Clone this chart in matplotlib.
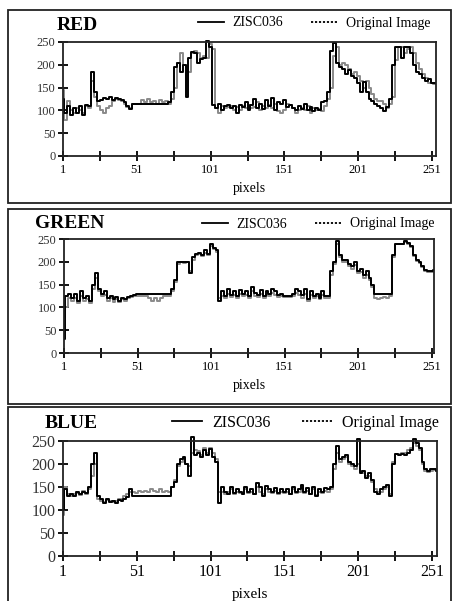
import numpy as np
import matplotlib
matplotlib.use("Agg")
import matplotlib.pyplot as plt
from matplotlib.lines import Line2D
from matplotlib.patches import Rectangle
from matplotlib.transforms import Bbox, TransformedBbox

plt.rcParams['font.family'] = ['Liberation Serif', 'DejaVu Serif']

# sampled every 2 pixels starting at pixel 1
red_zisc = [125, 95, 110, 90, 105, 95, 110, 90, 112, 110, 185, 140, 120, 122, 128, 125, 130, 122, 128, 125,
            122, 118, 110, 102, 113, 113, 113, 113, 113, 113, 113, 113, 113, 113, 113, 113, 118, 140, 195, 205,
            185, 200, 130, 215, 228, 225, 205, 212, 215, 252, 238, 112, 105, 115, 100, 110, 112, 105, 110, 95,
            112, 108, 118, 100, 112, 125, 105, 115, 102, 122, 110, 128, 100, 118, 115, 122, 108, 112, 105, 100,
            110, 102, 115, 100, 108, 98, 105, 100, 118, 120, 140, 230, 248, 205, 195, 190, 180, 188, 175, 170,
            160, 140, 162, 140, 125, 120, 115, 110, 105, 98, 108, 125, 200, 240, 240, 215, 238, 240, 225, 200,
            185, 180, 170, 165, 168, 160, 160, 160]
red_orig = [145, 80, 120, 100, 95, 105, 100, 95, 110, 105, 165, 130, 110, 100, 95, 105, 110, 120, 125, 122,
            120, 115, 108, 105, 113, 113, 115, 122, 118, 125, 118, 120, 115, 122, 118, 120, 115, 125, 150, 205,
            225, 200, 195, 185, 225, 230, 225, 215, 220, 215, 245, 235, 105, 95, 110, 105, 108, 110, 100, 108,
            100, 110, 105, 112, 105, 108, 118, 100, 110, 105, 112, 105, 115, 98, 95, 100, 115, 112, 105, 95,
            100, 105, 100, 110, 95, 105, 100, 102, 98, 110, 125, 150, 220, 240, 200, 205, 200, 190, 180, 185,
            175, 165, 150, 165, 150, 135, 125, 120, 120, 115, 105, 115, 130, 210, 240, 238, 225, 235, 240, 225,
            205, 190, 180, 170, 160, 160, 158, 158]
green_zisc = [30, 125, 130, 120, 130, 115, 135, 120, 125, 115, 150, 175, 140, 130, 135, 120, 125, 118, 122, 115,
              120, 118, 122, 125, 128, 130, 130, 130, 130, 130, 130, 130, 130, 130, 130, 130, 130, 140, 160, 200,
              200, 200, 200, 175, 210, 218, 220, 215, 225, 218, 240, 230, 225, 115, 135, 125, 140, 128, 135, 125,
              138, 130, 135, 125, 145, 132, 128, 138, 125, 135, 130, 140, 135, 128, 130, 125, 125, 125, 130, 140,
              135, 128, 140, 118, 135, 125, 130, 120, 135, 125, 125, 180, 200, 245, 215, 205, 205, 195, 190, 200,
              180, 185, 170, 180, 165, 150, 130, 130, 130, 130, 130, 130, 215, 240, 240, 240, 245, 242, 235, 215,
              205, 200, 190, 182, 180, 180, 182, 182]
green_orig = [80, 100, 120, 115, 120, 110, 125, 115, 118, 110, 140, 165, 135, 125, 128, 115, 120, 112, 118, 112,
              118, 115, 120, 122, 125, 125, 125, 125, 125, 120, 115, 120, 115, 120, 125, 125, 125, 135, 155, 195,
              200, 198, 200, 180, 205, 215, 218, 212, 220, 215, 235, 228, 222, 120, 125, 120, 130, 122, 128, 120,
              130, 125, 128, 120, 135, 125, 122, 130, 120, 128, 125, 132, 128, 122, 125, 122, 122, 122, 125, 132,
              128, 120, 130, 115, 128, 120, 125, 118, 128, 120, 120, 170, 195, 240, 210, 200, 200, 190, 185, 192,
              175, 178, 165, 172, 160, 145, 120, 118, 120, 122, 120, 125, 210, 238, 238, 240, 243, 240, 232, 212,
              202, 198, 188, 180, 178, 178, 180, 180]
blue_zisc = [100, 145, 130, 135, 130, 140, 135, 140, 138, 150, 200, 225, 130, 125, 115, 125, 118, 120, 115, 122,
             120, 125, 128, 145, 130, 130, 130, 130, 130, 130, 130, 130, 130, 130, 130, 130, 130, 150, 160, 200,
             210, 215, 200, 175, 258, 220, 225, 215, 230, 220, 232, 215, 205, 115, 150, 140, 135, 150, 138, 145,
             140, 135, 150, 140, 145, 135, 158, 150, 130, 152, 145, 140, 148, 138, 145, 140, 145, 135, 150, 140,
             145, 155, 140, 148, 135, 150, 130, 145, 140, 148, 145, 150, 200, 240, 210, 215, 220, 205, 200, 195,
             255, 180, 185, 170, 180, 165, 140, 135, 145, 150, 155, 130, 200, 222, 220, 222, 220, 225, 230, 255,
             245, 235, 205, 190, 185, 190, 190, 185]
blue_orig = [90, 150, 135, 130, 135, 138, 132, 142, 135, 145, 175, 200, 125, 120, 118, 122, 120, 118, 120, 125,
             125, 130, 135, 140, 140, 138, 142, 140, 142, 140, 145, 142, 140, 145, 140, 142, 140, 150, 165, 195,
             205, 210, 200, 195, 225, 230, 228, 220, 235, 225, 235, 225, 210, 140, 140, 135, 140, 145, 135, 140,
             138, 135, 145, 138, 140, 135, 150, 140, 135, 145, 140, 138, 142, 135, 140, 138, 140, 135, 145, 138,
             140, 148, 138, 142, 135, 145, 132, 140, 138, 142, 140, 145, 190, 225, 205, 210, 215, 200, 195, 190,
             200, 185, 180, 175, 175, 160, 145, 140, 140, 145, 150, 135, 205, 222, 222, 225, 225, 230, 235, 245,
             240, 230, 200, 185, 182, 185, 188, 185]

titles = ["RED", "GREEN", "BLUE"]
series = [(red_zisc, red_orig), (green_zisc, green_orig), (blue_zisc, blue_orig)]
legend_labels = ["ZISC036", "Original Image"]
x_ticks = [1, 51, 101, 151, 201, 251]
y_ticks = [0, 50, 100, 150, 200, 250]

W, H = 453, 601
fig = plt.figure(figsize=(W / 100, H / 100), dpi=100)

def fx(p): return p / W
def fy(p): return 1 - p / H

# panel boxes (pixel coords: left, top, right, bottom)
boxes = [(8, 10, 451, 203), (8, 209, 451, 404), (8, 407, 451, 606)]
for l, t, r, b in boxes:
    fig.patches.append(Rectangle((fx(l), fy(b)), fx(r - l), (b - t) / H, transform=fig.transFigure,
                                 fill=False, edgecolor='#222222', linewidth=1.3))

# axes (pixel coords: left, top, right, bottom) and xlim right
axes_px = [(63, 42, 436, 156, 253.7), (64, 239, 434, 353, 252.5), (63, 441, 437, 556, 254.5)]
title_pos = [(57, 25), (35, 224), (45, 424)]
leg_y = [23, 224, 423]
leg_right = [430, 434, 439]
leg_fs = [10, 10, 11.5]
tick_fs = [9, 9, 11.5]
xlab_fs = [10, 10, 11]
xlab_pad = [4.5, 4.5, 6]

for i, ((l, t, r, b, xr), (zisc, orig)) in enumerate(zip(axes_px, series)):
    ax = fig.add_axes([fx(l), fy(b), fx(r - l), (b - t) / H])
    x = 1 + 2 * np.arange(len(zisc))
    xo = 1 + 2 * np.arange(len(orig))
    clipbox = TransformedBbox(Bbox([[0, -0.02], [1, 1.08]]), ax.transAxes)
    for xs, ys, c in ((xo, orig, '#8a8a8a'), (x, zisc, 'black')):
        ln, = ax.plot(xs, ys, color=c, lw=1.4, drawstyle='steps-mid')
        ln.set_clip_path(None)
        ln.set_clip_box(clipbox)
    ax.set_xlim(1, xr)
    ax.set_ylim(0, 250)
    ax.set_xticks(x_ticks)
    ax.set_xticks([26, 76, 126, 176, 226], minor=True)
    ax.set_yticks(y_ticks)
    ax.tick_params(axis='both', which='both', direction='inout', length=7, width=1.3,
                   labelsize=tick_fs[i], pad=2, colors='black')
    ax.tick_params(axis='y', labelcolor='#333333')
    for s in ax.spines.values():
        s.set_linewidth(1.3)
        s.set_color('#222222')
    ax.set_xlabel("pixels", fontsize=xlab_fs[i], labelpad=xlab_pad[i])
    fig.text(fx(title_pos[i][0]), fy(title_pos[i][1]), titles[i], fontsize=14,
             fontweight='bold', ha='left', va='center')
    handles = [Line2D([], [], color='black', lw=1.3),
               Line2D([], [], color='black', lw=1.3, linestyle=(0, (1.2, 1.0)))]
    fig.legend(handles, legend_labels, loc='center right',
               bbox_to_anchor=(fx(leg_right[i]), fy(leg_y[i])), ncol=2, frameon=False,
               fontsize=leg_fs[i], handlelength=1.9, handletextpad=0.6, columnspacing=2.0,
               borderpad=0, borderaxespad=0)

fig.savefig("out.png", dpi=100)
